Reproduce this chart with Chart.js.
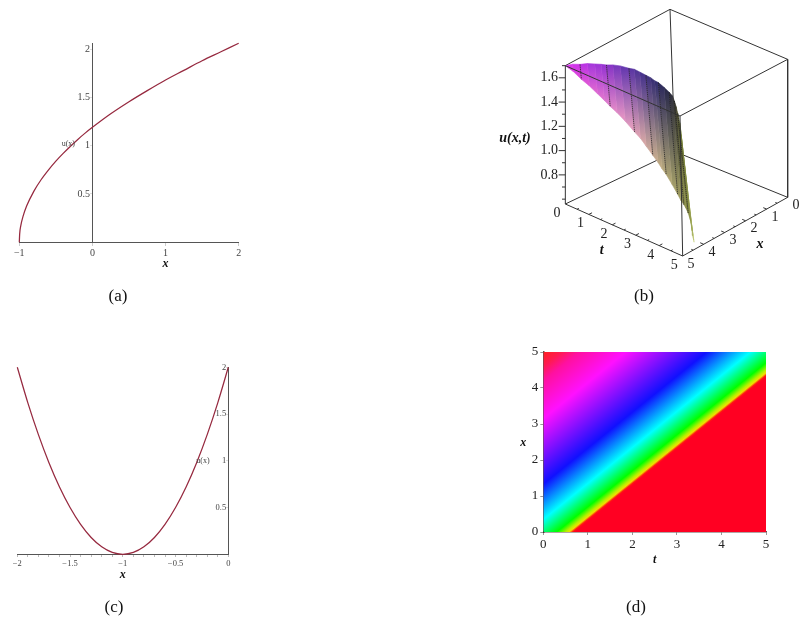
<!DOCTYPE html>
<html><head><meta charset="utf-8">
<script src="https://cdn.jsdelivr.net/npm/chart.js@4"></script>
<style>
html,body{margin:0;padding:0;background:#fff;width:806px;height:621px;overflow:hidden}
canvas{position:absolute;display:block}
.cap{position:absolute;font:17px "Liberation Serif",serif;color:#111;transform:translate(-50%,-50%)}
</style></head><body>
<canvas id="a" width="260" height="260" style="left:0;top:30px"></canvas>
<canvas id="b" width="316" height="310" style="left:490px;top:0"></canvas>
<canvas id="c" width="260" height="240" style="left:0;top:350px"></canvas>
<canvas id="d" width="290" height="240" style="left:500px;top:340px"></canvas>
<div class="cap" style="left:118px;top:296px">(a)</div>
<div class="cap" style="left:644px;top:296px">(b)</div>
<div class="cap" style="left:114px;top:607px">(c)</div>
<div class="cap" style="left:636px;top:607px">(d)</div>
<script>
// ---- panel (a)
const aX = [-1,-0.995,-0.98,-0.95,-0.9,-0.8,-0.7,-0.6,-0.5,-0.4,-0.3,-0.2,-0.1,0,0.25,0.5,0.75,1,1.25,1.5,1.75,2];
const aU = [0,0.085,0.17,0.265,0.375,0.53,0.65,0.75,0.84,0.92,0.995,1.065,1.13,1.19,1.33,1.455,1.57,1.68,1.78,1.88,1.97,2.06];
const aXTicks = [-1,0,1,2];
const aYTicks = [0,0.5,1,1.5,2];
// ---- panel (c)
const cX = [-2,-1.9,-1.8,-1.7,-1.6,-1.5,-1.4,-1.3,-1.2,-1.1,-1,-0.9,-0.8,-0.7,-0.6,-0.5,-0.4,-0.3,-0.2,-0.1,0];
const cU = [2,1.62,1.28,0.98,0.72,0.5,0.32,0.18,0.08,0.02,0,0.02,0.08,0.18,0.32,0.5,0.72,0.98,1.28,1.62,2];
const cXTicks = [-2,-1.9,-1.8,-1.7,-1.6,-1.5,-1.4,-1.3,-1.2,-1.1,-1,-0.9,-0.8,-0.7,-0.6,-0.5,-0.4,-0.3,-0.2,-0.1,0];
const cXLabelled = [-2,-1.5,-1,-0.5,0];
const cYTicks = [0,0.5,1,1.5,2];
// ---- panel (d): colour field depends on x - t
const dTicks = [0,1,2,3,4,5];
const dFieldT = [0,5];
const dFieldX = [5,5];
const dStopZ = [-0.70,-0.65,-0.58,-0.50,-0.30,0.35,1.33,3.15,4.2,4.6,5.0];
const dStopColour = ['#ff0022','#ff1a10','#f0e000','#b8f000','#00ff00','#00ffff','#1010ff','#ff10ff','#ff10a0','#ff1a50','#ff2020'];
// ---- panel (b): surface samples, one row per value of x - t
const bZ = [5,4.65,4.3,3.95,3.6,3.3,3.05,2.75,2.4,2,1.75,1.5,1.22,1,0.82,0.65,0.4,0.17,0.03,-0.1,-0.2,-0.3,-0.4,-0.47,-0.5,-0.53,-0.55];
const bU = [1.7,1.68,1.646,1.62,1.585,1.555,1.527,1.5,1.46,1.405,1.375,1.33,1.28,1.24,1.2,1.17,1.11,1.05,1.01,0.97,0.93,0.88,0.81,0.72,0.68,0.64,0.62];
// upper rim of the surface
const bUpperT = [0,0,0,0,0,0,0,0,0,0,0,0,0,0,0,0,0,0,0,0.05,0.12,0.18,0.26,0.3,0.4,0.5,5];
const bUpperX = [5,4.65,4.3,3.95,3.6,3.3,3.05,2.75,2.4,2,1.75,1.5,1.22,1,0.82,0.65,0.4,0.17,0.03,0,0,0,0,0,0,0,4.45];
const bUpperU = [1.7,1.68,1.646,1.62,1.585,1.555,1.527,1.5,1.46,1.405,1.375,1.33,1.28,1.24,1.2,1.17,1.11,1.05,1.01,0.97,0.93,0.88,0.81,0.72,0.5,0.24,0.62];
const bUpperColour = ['225,50,240','215,50,238','205,50,235','185,52,228','165,55,220','157,52,215','150,50,210','135,52,198','118,54,188','100,55,175','90,53,163','80,52,150','70,50,140','62,48,125','55,46,115','50,45,110','45,42,92','42,42,75','45,45,60','50,50,50','60,60,45','75,75,40','100,110,50','120,130,60','140,150,70','165,175,90','190,200,110'];
const bLowerColour = ['225,50,240','222,60,230','220,70,220','220,85,215','220,100,210','221,112,208','222,125,205','224,135,200','225,145,195','225,155,190','220,160,178','213,165,165','205,170,155','197,170,142','190,170,130','185,170,125','175,165,115','165,160,105','158,155,95','150,150,85','142,145,75','135,140,70','140,145,70','155,165,85','165,175,95','185,195,115','200,210,130'];
const bRuleZ = [4.3,3.05,2,1.22,0.65,0.17,-0.1,-0.3];
const bUMajor = [0.8,1,1.2,1.4,1.6];
const bUMinor = [0.6,0.7,0.9,1.1,1.3,1.5,1.7];
const bAxisTicks = [0,1,2,3,4,5];
const bAxisMinor = [0.5,1.5,2.5,3.5,4.5];

const SERIF = '"Liberation Serif",serif';
const CURVE = '#96293f';
const textPlugin = labels => ({id:'panelText',afterDraw(chart){
  const g=chart.ctx,sx=chart.scales.x,sy=chart.scales.y;
  g.save();g.textBaseline='middle';
  labels.forEach(l=>{g.font=l.font;g.fillStyle=l.color||'#222';g.textAlign=l.align||'center';
    g.fillText(l.text,sx.getPixelForValue(l.x),sy.getPixelForValue(l.y));});
  g.restore();
}});
const crossing = (min,max,ticks,pos,labelFn,font,color,tickLen,tickColor) => ({
  type:'linear',min,max,position:pos,z:1,
  afterBuildTicks:s=>{s.ticks=ticks.map(v=>({value:v}));},
  border:{color:'#555',width:1},
  grid:{drawOnChartArea:false,tickLength:tickLen,tickColor},
  ticks:{autoSkip:false,maxRotation:0,padding:2,font:{family:'Liberation Serif',size:font},color,callback:labelFn}
});
const fmt = v => String(v).replace('-','\u2212');
const yLabel = v => v===0?'':String(v)+'\u00A0';
const lineChart=(id,xs,us,xAxis,yAxis,padding,labels)=>new Chart(document.getElementById(id),{
  type:'scatter',
  data:{datasets:[{data:xs.map((x,i)=>({x,y:us[i]})),showLine:true,borderColor:CURVE,borderWidth:1.25,pointRadius:0,cubicInterpolationMode:'monotone',clip:false}]},
  options:{responsive:false,animation:false,layout:{padding},plugins:{legend:{display:false},tooltip:{enabled:false}},scales:{x:xAxis,y:yAxis}},
  plugins:[textPlugin(labels)]
});

lineChart('a',aX,aU,
  crossing(-1,2,aXTicks,{y:0},v=>fmt(v),10,'#444',3,'#ccc'),
  crossing(0,2.06,aYTicks,{x:0},yLabel,10,'#444',2,'#ddd'),
  {left:19.3,right:21.3,top:13.3,bottom:47.7},
  [{text:'x',x:1,y:-0.225,font:`italic bold 12px ${SERIF}`,color:'#111'},
   {text:'u(x)',x:-0.33,y:1.02,font:`8px ${SERIF}`,color:'#444'}]);

lineChart('c',cX,cU,
  crossing(-2,0,cXTicks,{y:0},v=>cXLabelled.includes(Math.round(v*10)/10)?fmt(v):'',8.5,'#444',2,'#bbb'),
  crossing(0,2,cYTicks,{x:0},yLabel,8.5,'#444',2,'#ddd'),
  {left:17.3,right:31.7,top:17.3,bottom:35.7},
  [{text:'x',x:-1,y:-0.225,font:`italic bold 12px ${SERIF}`,color:'#111'},
   {text:'u(x)',x:-0.24,y:1,font:`8px ${SERIF}`,color:'#444'}]);

// panel (d)
function fieldGradient(ctx){
  const c=ctx.chart; if(!c.chartArea) return '#ff0022';
  const sx=c.scales.x,sy=c.scales.y;
  const pt=Math.abs(sx.getPixelForValue(1)-sx.getPixelForValue(0));
  const px=Math.abs(sy.getPixelForValue(1)-sy.getPixelForValue(0));
  const z0=dStopZ[0],z1=dStopZ[dStopZ.length-1];
  const x0=sx.getPixelForValue(-z0),y0=sy.getPixelForValue(0);
  const s=(z1-z0)/(pt/px+px/pt);
  const g=c.ctx.createLinearGradient(x0,y0,x0-s*px,y0-s*pt);
  dStopZ.forEach((z,i)=>g.addColorStop((z-z0)/(z1-z0),dStopColour[i]));
  return g;
}
const dAxis=(pos,fit)=>({type:'linear',min:0,max:5,position:pos,z:1,afterFit:fit,
  afterBuildTicks:s=>{s.ticks=dTicks.map(v=>({value:v}));},
  border:{color:'rgba(50,20,20,0.75)',width:1.5},
  grid:{drawOnChartArea:false,tickLength:3,tickColor:'#999'},
  ticks:{autoSkip:false,maxRotation:0,padding:2,font:{family:'Liberation Serif',size:13},color:'#222'}});
new Chart(document.getElementById('d'),{
  type:'line',
  data:{datasets:[{data:dFieldT.map((t,i)=>({x:t,y:dFieldX[i]})),backgroundColor:fieldGradient,fill:'origin',borderWidth:0,pointRadius:0}]},
  options:{responsive:false,animation:false,layout:{padding:{left:0,right:24,top:12,bottom:0}},
    plugins:{legend:{display:false},tooltip:{enabled:false}},
    scales:{x:dAxis('bottom',s=>{s.height=48;}),y:dAxis('left',s=>{s.width=43.3;})}},
  plugins:[textPlugin([{text:'t',x:2.5,y:-0.78,font:`italic bold 12px ${SERIF}`,color:'#111'},
    {text:'x',x:-0.45,y:2.47,font:`italic bold 12px ${SERIF}`,color:'#111'}])]
});

// panel (b): projection of (t,x,u) through the drawn box, in view units of hidden scales
const UMIN=0.56,UMAX=1.70;
const boxCorners={t0x5:[[226,612],[226,197]],t5x5:[[578,768],[570,348]],t5x0:[[893,592],[893,178]],t0x0:[[555,455],[540,28]]};
function project(t,x,u){
  const a=t/5,b=x/5,c=(u-UMIN)/(UMAX-UMIN),mix=(p,q,k)=>p+(q-p)*k;
  const pick=(k,i)=>mix(boxCorners[k][0][i],boxCorners[k][1][i],c);
  const f=i=>mix(mix(pick('t0x0',i),pick('t0x5',i),b),mix(pick('t5x0',i),pick('t5x5',i),b),a);
  return {x:f(0),y:f(1)};
}
const upperPoint=i=>project(bUpperT[i],bUpperX[i],bUpperU[i]);
const lowerPoint=i=>bZ[i]>=0?project(5-bZ[i],5,bU[i]):project(5,5+bZ[i],bU[i]);
const frameLine=(pts,order)=>({data:pts.map(p=>project(...p)),showLine:true,borderColor:'#333',borderWidth:1,pointRadius:0,order});
const ds=[];
ds.push(frameLine([[0,5,UMIN],[0,0,UMIN],[5,0,UMIN]],50));
ds.push(frameLine([[0,0,UMIN],[0,0,UMAX]],50));
ds.push(frameLine([[0,5,UMAX],[0,0,UMAX],[5,0,UMAX]],50));
bZ.slice(0,-1).forEach((z,i)=>{
  const a1=upperPoint(i),a2=upperPoint(i+1),b2=lowerPoint(i+1),b1=lowerPoint(i);
  const paint=ctx=>{
    const c=ctx.chart; if(!c.chartArea) return '#888';
    const sx=c.scales.x,sy=c.scales.y;
    const g=c.ctx.createLinearGradient(sx.getPixelForValue((a1.x+a2.x)/2),sy.getPixelForValue((a1.y+a2.y)/2),sx.getPixelForValue((b1.x+b2.x)/2),sy.getPixelForValue((b1.y+b2.y)/2));
    g.addColorStop(0,`rgb(${bUpperColour[i+1]})`);
    g.addColorStop(1,`rgb(${bLowerColour[i+1]})`);
    return g;
  };
  ds.push({data:[a1,a2,b2,b1,a1],showLine:true,fill:'shape',backgroundColor:paint,borderColor:paint,borderWidth:0.6,pointRadius:0,order:20});
});
bRuleZ.forEach(z=>{const i=bZ.indexOf(z);
  ds.push({data:[upperPoint(i),lowerPoint(i)],showLine:true,borderColor:'rgba(25,25,25,0.72)',borderWidth:1,borderDash:[1.5,0.6],pointRadius:0,order:10});
});
ds.push(frameLine([[0,5,UMIN],[5,5,UMIN],[5,0,UMIN]],5));
ds.push(frameLine([[0,5,UMIN],[0,5,UMAX],[5,5,UMAX],[5,0,UMAX],[5,0,UMIN]],5));
ds.push(frameLine([[5,5,UMAX],[5,5,UMIN]],5));
// tick marks: those on the t and x axes point inward, over the floor of the box
const tickData=[];
const seg=(p,q)=>{tickData.push(p,q,{x:null,y:null});};
bUMajor.forEach(u=>{const p=project(0,5,u);seg(p,{x:p.x-20,y:p.y});});
bUMinor.forEach(u=>{const p=project(0,5,u);seg(p,{x:p.x-10,y:p.y});});
bAxisTicks.slice(1,-1).forEach(v=>{seg(project(v,5,UMIN),project(v,4.85,UMIN));seg(project(5,v,UMIN),project(4.85,v,UMIN));});
bAxisMinor.forEach(v=>{seg(project(v,5,UMIN),project(v,4.92,UMIN));seg(project(5,v,UMIN),project(4.92,v,UMIN));});
ds.push({data:tickData,showLine:true,borderColor:'#333',borderWidth:1,pointRadius:0,order:5,spanGaps:false});

const bLabels=[];
const bFont=`14px ${SERIF}`;
bUMajor.forEach(u=>{const p=project(0,5,u);bLabels.push({text:u.toFixed(1),x:p.x-48,y:p.y,font:bFont});});
bAxisTicks.forEach(v=>{const p=project(v,5,UMIN);bLabels.push({text:String(v),x:p.x-25,y:p.y+28,font:bFont});
  const q=project(5,v,UMIN);bLabels.push({text:String(v),x:q.x+25,y:q.y+24,font:bFont});});
bLabels.push({text:'u(x,t)',x:75,y:415,font:`italic bold 14px ${SERIF}`,color:'#111'});
bLabels.push({text:'t',x:335,y:750,font:`italic bold 14px ${SERIF}`,color:'#111'});
bLabels.push({text:'x',x:810,y:733,font:`italic bold 14px ${SERIF}`,color:'#111'});

new Chart(document.getElementById('b'),{
  type:'scatter',
  data:{datasets:ds},
  options:{responsive:false,animation:false,layout:{padding:0},
    plugins:{legend:{display:false},tooltip:{enabled:false}},
    scales:{x:{type:'linear',min:0,max:948,display:false},y:{type:'linear',min:0,max:930,reverse:true,display:false}}},
  plugins:[textPlugin(bLabels)]
});
</script>
</body></html>
